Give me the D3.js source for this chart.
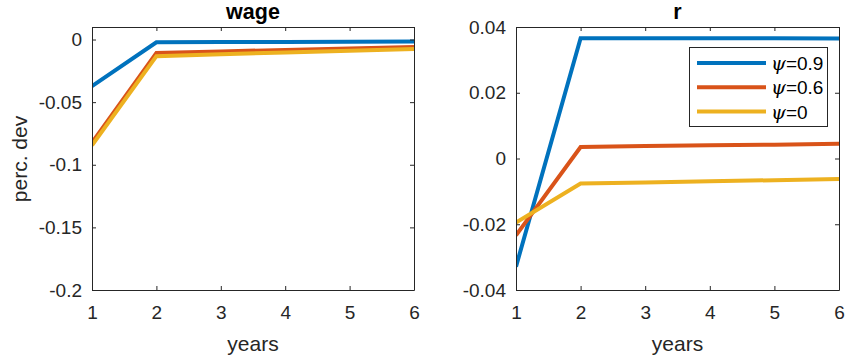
<!DOCTYPE html>
<meta charset="utf-8">
<script src="https://d3js.org/d3.v7.min.js"></script>
<style>
    body { margin: 0; background: #fff; }
    text { font-family: 'Liberation Sans', Arial, sans-serif; fill: #262626; }
    .label { font-size: 21px; }
    .title { font-size: 21.5px; font-weight: bold; fill: #000; }
</style>
<div id="chart"></div>
<script>
    // data
    let years = [1, 2, 3, 4, 5, 6];
    let seriesNames = ["0.9", "0.6", "0"];
    let colors = ["#0072BD", "#D95319", "#EDB120"];

    let wage09 = [-0.0372, -0.0022, -0.0020, -0.0019, -0.0018, -0.0016];
    let wage06 = [-0.0824, -0.0107, -0.0095, -0.0083, -0.0071, -0.0060];
    let wage00 = [-0.0845, -0.0133, -0.0118, -0.0103, -0.0089, -0.0075];

    let r09 = [-0.0329, 0.0366, 0.0366, 0.0366, 0.0366, 0.0365];
    let r06 = [-0.0234, 0.0035, 0.0038, 0.0040, 0.0042, 0.0045];
    let r00 = [-0.0195, -0.0076, -0.0073, -0.0069, -0.0066, -0.0062];

    let wageTicks = [-0.2, -0.15, -0.1, -0.05, 0];
    let wageTickLabels = ["-0.2", "-0.15", "-0.1", "-0.05", "0"];
    let rTicks = [-0.04, -0.02, 0, 0.02, 0.04];
    let rTickLabels = ["-0.04", "-0.02", "0", "0.02", "0.04"];

    let W = 847, H = 360;
    let svg = d3.select("#chart").append("svg")
        .attr("width", W).attr("height", H);

    let plotTop = 27, plotBottom = 290;

    function panel(opts) {
        let x = d3.scaleLinear().domain([1, 6]).range([opts.left, opts.right]);
        let y = d3.scaleLinear().domain(opts.domain).range([plotBottom, plotTop]);
        let g = svg.append("g");

        // clip so lines stay inside the box
        let clipId = "clip" + opts.id;
        svg.append("clipPath").attr("id", clipId)
            .append("rect")
            .attr("x", opts.left).attr("y", plotTop)
            .attr("width", opts.right - opts.left).attr("height", plotBottom - plotTop);

        let line = d3.line()
            .x(function (d, i) { return x(years[i]); })
            .y(function (d) { return y(d); });

        opts.series.forEach(function (s, k) {
            g.append("path")
                .datum(s)
                .attr("clip-path", "url(#" + clipId + ")")
                .attr("d", line)
                .attr("fill", "none")
                .attr("stroke", colors[k])
                .attr("stroke-width", 4)
                .attr("stroke-linejoin", "miter");
        });

        // axes, ticks inward like matlab
        let tl = 4;
        g.append("g")
            .attr("transform", "translate(0," + plotBottom + ")")
            .call(d3.axisBottom(x).tickValues(years).tickFormat(d3.format("d"))
                .tickSizeInner(-tl).tickSizeOuter(0).tickPadding(16));
        g.append("g")
            .attr("transform", "translate(0," + plotTop + ")")
            .call(d3.axisTop(x).tickValues(years).tickSizeInner(-tl).tickSizeOuter(0).tickFormat(""));
        g.append("g")
            .attr("transform", "translate(" + opts.left + ",0)")
            .call(d3.axisLeft(y).tickValues(opts.ticks).tickSizeInner(-tl).tickSizeOuter(0).tickPadding(10)
                .tickFormat(function (d, i) { return opts.tickLabels[i]; }));
        g.append("g")
            .attr("transform", "translate(" + opts.right + ",0)")
            .call(d3.axisRight(y).tickValues(opts.ticks).tickSizeInner(-tl).tickSizeOuter(0).tickFormat(""));

        g.selectAll(".domain, .tick line").attr("stroke", "#262626");
        g.selectAll(".tick text").attr("fill", "#262626")
            .attr("font-size", null).attr("font-family", null)
            .style("font-size", "19px");

        let cx = (opts.left + opts.right) / 2;
        svg.append("text").attr("class", "title")
            .attr("x", cx).attr("y", 19)
            .attr("text-anchor", "middle")
            .text(opts.title);
        svg.append("text").attr("class", "label")
            .attr("x", cx).attr("y", 351)
            .attr("text-anchor", "middle")
            .text("years");

        return {x: x, y: y};
    }

    panel({
        id: 1, left: 92, right: 414,
        domain: [-0.2, 0.01],
        ticks: wageTicks, tickLabels: wageTickLabels,
        series: [wage09, wage06, wage00],
        title: "wage"
    });

    svg.append("text").attr("class", "label")
        .attr("transform", "translate(27,159) rotate(-90)")
        .attr("text-anchor", "middle")
        .text("perc. dev");

    panel({
        id: 2, left: 516, right: 839,
        domain: [-0.04, 0.04],
        ticks: rTicks, tickLabels: rTickLabels,
        series: [r09, r06, r00],
        title: "r"
    });

    // legend
    let leg = svg.append("g");
    leg.append("rect")
        .attr("x", 689.5).attr("y", 47.5)
        .attr("width", 138).attr("height", 79)
        .attr("fill", "#fff").attr("stroke", "#262626").attr("stroke-width", 1);
    seriesNames.forEach(function (name, k) {
        let yy = 63 + k * 24.3;
        leg.append("line")
            .attr("x1", 697).attr("x2", 766)
            .attr("y1", yy).attr("y2", yy)
            .attr("stroke", colors[k]).attr("stroke-width", 4);
        let t = leg.append("text")
            .attr("x", 771).attr("y", yy + 7)
            .style("font-size", "19px")
            .attr("fill", "#000");
        t.append("tspan")
            .style("font-family", "'DejaVu Serif', serif")
            .style("font-style", "italic")
            .style("fill", "#000")
            .text("ψ");
        t.append("tspan").style("fill", "#000").text("=" + name);
    });
</script>
